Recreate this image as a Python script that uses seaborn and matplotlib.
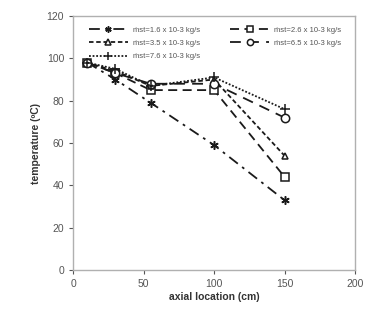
import pandas as pd
import matplotlib.pyplot as plt
import seaborn as sns

# axial positions (cm) and temperatures (C)
x = [10, 30, 55, 100, 150]
t16 = [98, 90, 79, 59, 33]
t26 = [98, 93, 85, 85, 44]
t35 = [98, 94, 87, 90, 54]
t65 = [98, 93, 88, 88, 72]
t76 = [98, 95, 87, 91, 76]
labels = ["ṁst=1.6 x 10-3 kg/s", "ṁst=2.6 x 10-3 kg/s", "ṁst=3.5 x 10-3 kg/s",
          "ṁst=6.5 x 10-3 kg/s", "ṁst=7.6 x 10-3 kg/s"]

rows = []
for lab, ys in zip(labels, [t16, t26, t35, t65, t76]):
    for xi, yi in zip(x, ys):
        rows.append({"axial": xi, "temp": yi, "flow": lab})
df = pd.DataFrame(rows)

sns.set_style("white")
plt.rcParams['font.family'] = ['Liberation Sans', 'DejaVu Sans']

fig = plt.figure(figsize=(3.66, 3.2), dpi=100)
ax = fig.add_axes([0.2, 0.156, 0.77, 0.794])

styles = {
    labels[0]: dict(ls=(0, (6, 3, 1.5, 3)), marker=(6, 2, 0), ms=6, mfc='black'),
    labels[1]: dict(ls=(0, (5, 3)), marker='s', ms=6, mfc='white'),
    labels[2]: dict(ls=(0, (2.5, 1.5)), marker='^', ms=5, mfc='white'),
    labels[3]: dict(ls=(0, (6, 4)), marker='o', ms=6, mfc='white'),
    labels[4]: dict(ls=(0, (1, 1)), marker='+', ms=7, mfc='black'),
}
for lab in labels:
    sub = df[df.flow == lab]
    st = styles[lab]
    sns.lineplot(data=sub, x="axial", y="temp", ax=ax, color='#1a1a1a', lw=1.3,
                 linestyle=st['ls'], marker=st['marker'], markersize=st['ms'],
                 markerfacecolor=st['mfc'], markeredgecolor='#1a1a1a',
                 markeredgewidth=1.1, legend=False)

ax.set_xlim(0, 200)
ax.set_ylim(0, 120)
ax.set_xticks([0, 50, 100, 150, 200])
ax.set_yticks(range(0, 121, 20))
ax.tick_params(axis='both', labelsize=7.5, colors='#555555', length=3, direction='out',
               left=True, bottom=True)
for s in ax.spines.values():
    s.set_color('#b0b0b0')
    s.set_linewidth(1)
ax.set_xlabel("axial location (cm)", fontsize=7.5, fontweight='bold', color='#333333', labelpad=2)
ax.set_ylabel("temperature (ºC)", fontsize=7.5, fontweight='bold', color='#333333', labelpad=4)

# legend: build it from the drawn lines so the dash patterns match
h = list(ax.lines)
order = [0, 2, 4, 1, 3]
ax.legend([h[i] for i in order], [labels[i] for i in order], ncol=2, frameon=False,
          fontsize=5.5, loc='upper left', bbox_to_anchor=(0.03, 0.985),
          handlelength=5.2, handletextpad=0.6, columnspacing=3.9,
          labelspacing=0.75, labelcolor='#555555', markerscale=0.75)

fig.savefig("out.png", dpi=100)
